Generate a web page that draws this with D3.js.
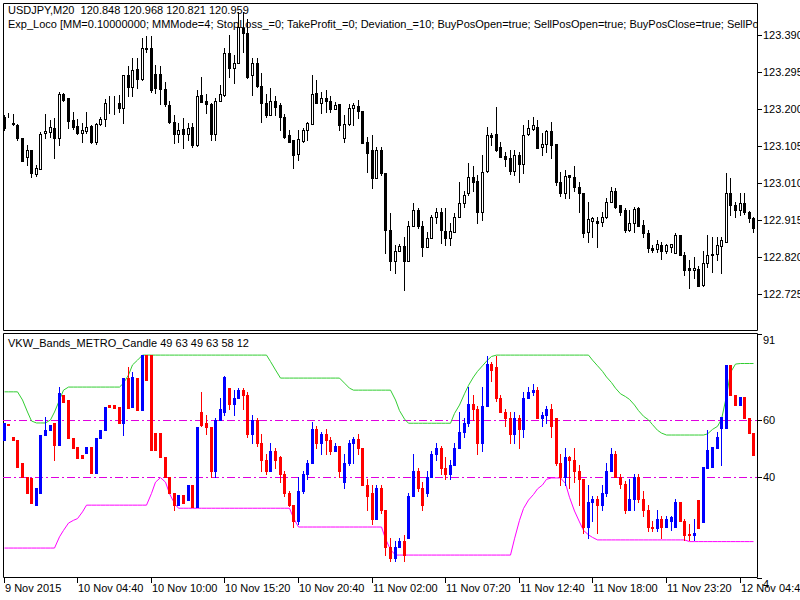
<!DOCTYPE html>
<html>
<head>
<meta charset="utf-8">
<script src="https://cdn.jsdelivr.net/npm/d3@7"></script>
<style>
  body { margin: 0; background: #fff; }
  svg { display: block; font-family: "Liberation Sans", Arial, sans-serif; }
  text { white-space: pre; }
</style>
</head>
<body>
<svg id="chart" width="800" height="600"></svg>
<script>
// USDJPY M20 bars
var openP  = [123.180,123.185,123.163,123.159,123.126,123.077,123.095,123.032,123.046,123.138,123.140,123.152,123.125,123.238,123.229,123.172,123.156,123.138,123.142,123.156,123.114,123.161,123.174,123.215,123.216,123.216,123.203,123.287,123.256,123.302,123.276,123.356,123.356,123.289,123.289,123.251,123.210,123.166,123.135,123.148,123.135,123.154,123.106,123.236,123.219,123.212,123.135,123.220,123.236,123.343,123.304,123.317,123.407,123.394,123.287,123.319,123.259,123.215,123.185,123.220,123.210,123.178,123.133,123.120,123.084,123.118,123.146,123.161,123.242,123.215,123.227,123.220,123.199,123.212,123.126,123.161,123.202,123.208,123.195,123.116,123.095,123.022,123.095,123.035,122.889,122.808,122.834,122.849,122.808,122.898,122.941,122.898,122.844,122.868,122.923,122.936,122.887,122.868,122.883,122.923,122.958,122.983,123.026,123.015,122.936,123.041,123.133,123.135,123.101,123.079,123.073,123.041,123.082,123.058,123.135,123.149,123.154,123.101,123.110,123.142,123.110,123.013,122.985,123.030,123.024,123.000,122.983,122.885,122.911,122.911,122.909,122.923,122.962,122.990,122.952,122.941,122.889,122.906,122.945,122.902,122.881,122.842,122.840,122.851,122.836,122.846,122.829,122.875,122.825,122.791,122.787,122.789,122.748,122.804,122.824,122.826,122.849,122.859,122.983,122.953,122.941,122.958,122.935,122.919];
var highP  = [123.185,123.190,123.187,123.161,123.126,123.107,123.095,123.056,123.140,123.187,123.172,123.176,123.244,123.240,123.229,123.193,123.174,123.163,123.191,123.159,123.163,123.180,123.225,123.232,123.232,123.236,123.287,123.309,123.330,123.330,123.382,123.386,123.386,123.313,123.309,123.270,123.219,123.185,123.163,123.176,123.163,123.163,123.249,123.283,123.238,123.215,123.227,123.262,123.356,123.390,123.339,123.450,123.450,123.430,123.330,123.332,123.292,123.238,123.253,123.234,123.215,123.186,123.146,123.120,123.146,123.150,123.167,123.287,123.274,123.244,123.249,123.232,123.217,123.212,123.185,123.212,123.215,123.223,123.195,123.129,123.133,123.103,123.103,123.035,122.932,122.851,122.853,122.872,122.911,122.958,122.945,122.911,122.885,122.928,122.945,122.945,122.945,122.906,122.932,123.013,122.988,123.061,123.052,123.030,123.082,123.154,123.138,123.206,123.116,123.090,123.095,123.095,123.090,123.159,123.172,123.180,123.172,123.138,123.146,123.167,123.110,123.039,123.043,123.031,123.052,123.013,122.983,122.962,122.921,122.921,122.936,122.972,123.000,122.996,122.953,122.945,122.941,122.948,122.948,122.915,122.889,122.851,122.864,122.858,122.853,122.853,122.881,122.876,122.832,122.813,122.819,122.796,122.834,122.876,122.872,122.872,122.872,123.035,123.022,122.962,122.983,122.983,122.937,122.921];
var lowP   = [123.146,123.180,123.159,123.120,123.065,123.056,123.025,123.028,123.046,123.125,123.129,123.073,123.107,123.220,123.150,123.148,123.136,123.114,123.138,123.112,123.110,123.159,123.156,123.189,123.187,123.193,123.163,123.232,123.232,123.253,123.274,123.347,123.244,123.240,123.212,123.208,123.163,123.112,123.116,123.099,123.120,123.101,123.104,123.217,123.189,123.120,123.120,123.220,123.232,123.283,123.266,123.317,123.347,123.279,123.236,123.257,123.167,123.180,123.185,123.185,123.146,123.125,123.116,123.048,123.069,123.116,123.120,123.161,123.232,123.189,123.193,123.193,123.199,123.146,123.116,123.159,123.159,123.176,123.113,123.039,122.996,123.022,123.030,122.829,122.787,122.778,122.835,122.735,122.808,122.898,122.894,122.821,122.844,122.868,122.906,122.855,122.851,122.851,122.883,122.921,122.949,122.979,122.988,122.906,122.915,123.039,123.107,123.092,123.077,123.052,123.032,123.030,123.013,123.035,123.133,123.146,123.099,123.082,123.090,123.073,123.005,122.975,122.971,122.970,122.988,122.936,122.872,122.859,122.872,122.846,122.899,122.919,122.962,122.945,122.928,122.885,122.887,122.885,122.899,122.871,122.832,122.832,122.833,122.815,122.830,122.833,122.829,122.825,122.774,122.740,122.765,122.744,122.746,122.795,122.782,122.813,122.778,122.859,122.928,122.921,122.928,122.930,122.909,122.885];
var closeP = [123.150,123.185,123.162,123.125,123.067,123.095,123.035,123.048,123.136,123.142,123.153,123.125,123.238,123.223,123.169,123.154,123.138,123.146,123.153,123.114,123.161,123.174,123.215,123.216,123.215,123.203,123.287,123.257,123.300,123.276,123.356,123.355,123.249,123.253,123.251,123.212,123.166,123.135,123.146,123.135,123.150,123.106,123.233,123.217,123.212,123.135,123.220,123.238,123.343,123.304,123.319,123.411,123.394,123.283,123.319,123.259,123.215,123.185,123.220,123.206,123.178,123.129,123.116,123.082,123.123,123.146,123.163,123.238,123.215,123.227,123.220,123.199,123.210,123.159,123.161,123.203,123.210,123.195,123.113,123.086,123.022,123.095,123.035,122.889,122.808,122.834,122.849,122.808,122.898,122.941,122.898,122.846,122.868,122.923,122.936,122.889,122.868,122.887,122.923,122.958,122.979,123.026,123.013,122.936,123.039,123.133,123.129,123.095,123.077,123.072,123.041,123.082,123.058,123.133,123.150,123.159,123.099,123.110,123.144,123.106,123.013,122.983,123.028,123.024,123.000,122.983,122.881,122.917,122.919,122.906,122.923,122.962,122.990,122.947,122.936,122.889,122.906,122.943,122.900,122.881,122.842,122.838,122.852,122.836,122.851,122.852,122.876,122.825,122.787,122.787,122.791,122.746,122.804,122.824,122.827,122.851,122.864,122.983,122.953,122.941,122.958,122.935,122.919,122.894];

// VKW_Bands_METRO_Candle indicator bars
var oscOpen  = [53.0,58.6,54.1,53.0,44.8,39.8,39.4,29.9,34.1,54.8,56.6,59.1,51.2,69.0,67.2,53.7,50.5,47.7,48.4,50.5,41.2,53.7,56.6,65.5,65.5,64.8,59.1,75.2,64.8,75.1,63.7,83.3,83.3,55.5,55.5,47.0,39.8,34.1,29.9,33.4,31.6,37.0,29.2,
  63.0,59.0,57.5,42.0,60.0,63.0,71.5,66.0,68.0,71.0,69.0,55.0,60.0,52.0,46.0,42.0,49.0,47.0,41.0,34.0,30.0,24.0,35.0,41.0,45.0,57.0,52.0,55.0,53.0,49.0,51.0,38.0,45.0,52.0,53.5,50.0,37.0,34.0,25.0,36.0,28.0,15.0,11.0,15.0,17.0,
  18.0,33.0,42.0,36.0,34.0,40.0,48.0,50.0,43.0,41.0,44.0,50.0,56.0,59.0,66.0,64.0,52.0,65.0,80.0,79.0,68.0,63.0,61.0,55.0,61.0,57.0,68.0,70.0,71.0,61.0,62.0,64.0,61.0,45.0,40.0,47.0,46.0,42.0,39.0,22.0,31.0,32.0,30.0,34.0,42.0,48.0,40.0,37.5,28.0,32.0,40.0,32.0,28.0,22.0,21.5,25.0,22.0,24.0,22.0,31.0,24.0,19.5,19.0,
  31.6,23.8,43.0,43.4,50.2,57.2,57.2,79.8,69.1,65.5,68.4,60.9,55.6];
var oscClose = [59.1,58.2,53.0,43.4,39.8,34.1,30.6,35.9,54.8,56.6,58.4,51.2,69.7,66.6,53.7,50.1,46.6,46.6,50.5,41.2,53.7,56.6,64.8,64.8,64.4,59.1,75.1,64.4,75.5,63.7,83.3,74.4,49.4,49.4,47.0,39.8,34.1,29.9,33.4,30.6,37.0,29.2,57.7,
  58.5,57.5,42.0,60.0,64.0,75.5,66.0,68.0,71.0,69.0,55.0,60.0,52.0,46.0,42.0,49.0,46.0,41.0,34.0,30.0,24.0,35.0,41.0,45.0,57.0,52.0,55.0,53.0,49.0,51.0,42.0,45.0,52.0,53.5,50.0,37.0,33.0,25.0,36.0,28.0,15.0,11.0,15.0,17.0,12.0,
  33.0,42.0,36.0,30.0,40.0,48.0,50.0,43.0,41.0,44.0,50.0,56.0,59.0,66.0,64.0,52.0,65.0,80.0,78.0,68.0,63.0,61.0,55.0,61.0,57.0,68.0,70.0,71.0,61.0,62.0,64.0,58.0,45.0,40.0,47.0,46.0,42.0,39.0,22.0,31.0,32.0,30.0,34.0,42.0,48.0,40.0,37.5,28.0,32.0,40.0,32.0,28.0,22.0,21.5,25.0,22.0,25.0,25.5,31.0,24.0,19.0,19.0,20.0,
  21.6,43.4,49.5,50.5,54.1,61.3,79.8,69.1,65.5,68.4,60.9,55.6,47.7];
var oscHigh  = [59.1,58.6,54.1,53.0,44.8,39.8,39.4,35.9,54.8,61.2,58.4,59.1,71.9,69.0,67.2,53.7,50.5,47.7,50.5,50.5,53.7,56.6,64.8,65.5,65.5,64.8,75.1,79.0,77.2,75.1,83.3,83.3,83.3,55.5,55.5,47.0,39.8,34.1,33.4,33.4,37.0,37.0,57.7,
  70.0,62.0,57.5,61.0,68.0,76.0,71.5,71.0,71.5,71.5,70.0,62.0,61.0,55.0,48.0,52.0,50.0,47.5,42.0,35.0,30.0,40.0,42.0,46.0,59.5,58.0,56.0,57.0,54.0,52.0,51.0,48.0,53.0,54.0,55.0,50.0,39.0,37.0,37.0,37.0,28.0,18.0,17.0,18.0,19.0,
  34.0,48.0,43.0,38.0,42.0,49.0,52.0,51.0,47.0,46.0,52.0,63.0,61.0,72.0,69.0,65.0,72.0,83.0,81.0,83.0,69.0,64.0,63.0,63.0,62.0,70.0,72.0,73.0,72.0,63.0,65.0,66.0,61.0,48.0,50.0,47.5,50.0,44.0,39.0,37.0,33.0,33.0,37.0,45.0,50.0,49.0,41.0,38.5,39.0,41.0,41.0,35.0,30.0,24.0,28.0,26.0,26.0,26.0,32.0,31.0,25.0,23.0,25.0,
  31.6,43.4,56.6,50.5,55.9,61.3,79.8,79.8,69.1,68.4,68.4,60.9,55.6];
var oscLow   = [53.0,58.2,53.0,43.4,39.8,34.1,30.6,29.9,34.1,54.8,56.6,45.9,51.2,66.6,53.7,50.1,46.6,46.6,48.4,41.2,41.2,53.7,56.6,64.8,64.4,59.1,54.8,64.4,64.8,63.7,63.7,74.4,49.4,49.4,47.0,39.8,34.1,28.1,29.9,30.6,31.6,29.2,29.2,
  58.0,55.0,40.0,40.0,60.0,62.0,64.0,62.0,68.0,64.0,54.0,52.0,51.0,42.0,41.0,42.0,43.0,38.0,33.0,29.5,22.0,23.0,34.0,39.0,45.0,50.0,48.0,48.0,48.0,49.0,40.0,36.0,44.0,45.0,48.0,37.0,28.0,23.0,25.0,27.0,12.0,10.0,10.0,15.0,10.0,
  18.0,33.0,35.0,28.0,33.0,40.0,46.0,41.0,39.0,39.0,44.0,50.0,54.0,58.0,60.0,48.0,49.0,65.0,74.0,67.0,63.0,58.0,52.0,52.0,50.0,54.0,68.0,69.0,61.0,58.0,59.0,54.0,44.0,37.0,37.0,36.0,38.0,30.0,20.0,18.0,24.0,20.0,28.0,33.0,42.0,40.0,36.0,27.0,28.0,28.0,31.0,26.0,20.5,20.5,20.5,18.0,22.0,21.0,22.0,24.0,17.5,17.5,17.5,
  21.6,23.8,43.0,43.4,50.2,44.1,57.2,69.1,65.5,65.5,60.9,55.6,47.7];

var upperBand = [70.2,70.2,70.2,70.2,67.3,63.0,59.8,59.1,59.1,59.1,60.2,63.0,67.3,70.8,
  71.9,71.9,71.9,71.9,71.9,71.9,71.9,71.9,71.9,71.9,71.9,71.9,73.3,76.2,79.8,81.5,
  83.3,83.3,83.3,83.3,83.3,83.3,83.3,83.3,83.3,83.3,83.3,83.3,83.3,83.3,83.3,83.3,83.3,83.3,83.3,83.3,83.3,83.3,83.3,83.3,83.3,83.3,83.3,83.3,
  81.0,78.0,75.1,75.1,75.1,75.1,75.1,75.1,75.1,75.1,75.1,75.1,75.1,75.1,75.1,75.1,73.3,71.5,
  70.8,70.8,70.8,70.8,70.8,70.8,70.8,70.8,70.8,67.3,63.5,60.5,
  59.0,59.0,59.0,59.0,59.0,59.0,59.0,59.0,59.0,59.0,62.5,65.5,69.5,72.5,75.5,77.5,79.5,81.5,82.8,
  83.3,83.3,83.3,83.3,83.3,83.3,83.3,83.3,83.3,83.3,83.3,83.3,83.3,83.3,83.3,83.3,83.3,83.3,83.3,83.3,83.3,
  81.5,79.5,77.5,75.5,73.5,71.5,69.5,68.5,67.5,65.5,63.5,61.5,60.2,58.5,56.5,55.5,
  54.8,54.8,54.8,54.8,54.8,54.8,54.8,54.8,54.8,55.2,56.8,57.9,60.4,68.7,77.1,80.1,80.3,80.3,80.3,80.3];
var lowerBand = [14.5,14.5,14.5,14.5,14.5,14.5,14.5,14.5,14.5,14.5,14.5,14.5,18.5,20.8,23.4,24.4,25.0,27.4,
  29.8,29.8,29.8,29.8,29.8,29.8,29.8,29.8,29.8,29.8,29.8,29.8,29.8,29.8,34.0,38.0,39.6,38.0,33.9,30.4,
  28.7,28.7,28.7,28.7,28.7,28.7,28.7,28.7,28.7,28.7,28.7,28.7,28.7,28.7,28.7,28.7,28.7,28.7,28.7,28.7,28.7,28.7,28.7,28.7,28.7,25.2,
  22.0,22.0,22.0,22.0,22.0,22.0,22.0,22.0,22.0,22.0,22.0,22.0,22.0,22.0,22.0,22.0,22.0,22.0,22.0,17.8,13.9,
  12.0,12.0,12.0,12.0,12.0,12.0,12.0,12.0,12.0,12.0,12.0,12.0,12.0,12.0,12.0,12.0,12.0,12.0,12.0,12.0,12.0,12.0,12.0,12.0,12.0,12.0,
  17.8,24.4,28.6,31.6,33.6,35.6,37.0,39.0,39.5,39.5,39.5,37.5,32.6,27.7,23.8,20.8,19.2,18.3,
  17.4,17.4,17.4,17.4,17.4,17.4,17.4,17.4,17.4,17.4,17.4,17.4,17.4,17.4,17.4,17.4,17.4,17.4,17.4,17.4,
  16.8,16.8,16.8,16.8,16.8,16.8,16.8,16.8,16.8,16.8,16.8,16.8,16.8,16.8,16.8];

var priceTicks = [123.390,123.295,123.200,123.105,123.010,122.915,122.820,122.725];
var oscTicks = [91,60,40,4];
var oscLevels = [60,40];
var timeTickBars = [0,16,32,48,64,80,96,112,128,144,160];
var timeLabels = ["9 Nov 2015","10 Nov 04:40","10 Nov 10:00","10 Nov 15:20","10 Nov 20:40","11 Nov 02:00","11 Nov 07:20","11 Nov 12:40","11 Nov 18:00","11 Nov 23:20","12 Nov 04:40"];

var headerLine1 = "USDJPY,M20  120.848 120.968 120.821 120.959";
var headerLine2 = "Exp_Loco [MM=0.10000000; MMMode=4; StopLoss_=0; TakeProfit_=0; Deviation_=10; BuyPosOpen=true; SellPosOpen=true; BuyPosClose=true; SellPosClose=true]";
var oscTitle = "VKW_Bands_METRO_Candle 49 63 49 63 58 12";

var svg = d3.select("#chart");
var left = 3, right = 757;
var top1 = 3, bottom1 = 330, top2 = 333, bottom2 = 577;

var x = d3.scaleLinear().domain([0, 163]).range([3.6, 3.6 + 163 * 4.6]);
var yPrice = d3.scaleLinear().domain([122.632, 123.472]).range([bottom1, top1]);
var yOsc = d3.scaleLinear().domain([4, 91]).range([577.5, 333.5]);

var defs = svg.append("defs");
defs.append("clipPath").attr("id", "clip1")
  .append("rect").attr("x", left).attr("y", top1).attr("width", right - left).attr("height", bottom1 - top1);
defs.append("clipPath").attr("id", "clip2")
  .append("rect").attr("x", left).attr("y", top2).attr("width", right - left).attr("height", bottom2 - top2);

// panel frames
function frame(t, b) {
  svg.append("path")
    .attr("d", `M${left + 0.5},${b + 0.5}V${t + 0.5}H${right + 0.5}V${b + 0.5}H${left + 0.5}`)
    .attr("fill", "none").attr("stroke", "#000").attr("stroke-width", 1);
}
frame(top1, bottom1);
frame(top2, bottom2);

function px(i) { return Math.round(x(i)); }
function py(s, v) { return Math.round(s(v)); }

// ---------- price panel ----------
var g1 = svg.append("g").attr("clip-path", "url(#clip1)");
g1.append("text").attr("x", 8).attr("y", 14).attr("font-size", 11).text(headerLine1);
g1.append("text").attr("x", 8).attr("y", 28).attr("font-size", 11).text(headerLine2);

var bars = d3.range(openP.length);
g1.selectAll("line.wick").data(bars).enter().append("line")
  .attr("class", "wick")
  .attr("x1", i => px(i) + 0.5).attr("x2", i => px(i) + 0.5)
  .attr("y1", i => py(yPrice, highP[i])).attr("y2", i => py(yPrice, lowP[i]) + 1)
  .attr("stroke", "#000");
g1.selectAll("rect.body").data(bars).enter().append("rect")
  .attr("class", "body")
  .attr("x", i => px(i) - 0.5)
  .attr("width", 2)
  .attr("y", i => py(yPrice, Math.max(openP[i], closeP[i])) + 0.5)
  .attr("height", i => Math.max(0, py(yPrice, Math.min(openP[i], closeP[i])) - py(yPrice, Math.max(openP[i], closeP[i]))))
  .attr("fill", i => closeP[i] >= openP[i] ? "#fff" : "#000")
  .attr("stroke", "#000");

var yAxis1 = svg.append("g").attr("font-size", 11);
priceTicks.forEach(function(t) {
  var yy = py(yPrice, t);
  yAxis1.append("line").attr("x1", right).attr("x2", right + 5).attr("y1", yy + 0.5).attr("y2", yy + 0.5).attr("stroke", "#000");
  yAxis1.append("text").attr("x", right + 6).attr("y", yy + 4).text(t.toFixed(3));
});

// ---------- indicator panel ----------
var g2 = svg.append("g").attr("clip-path", "url(#clip2)");

oscLevels.forEach(function(l) {
  g2.append("line")
    .attr("x1", left).attr("x2", right)
    .attr("y1", py(yOsc, l) + 0.5).attr("y2", py(yOsc, l) + 0.5)
    .attr("stroke", "#e000e0").attr("stroke-dasharray", "8,3,2,3");
});

var bandLine = d3.line().x((d, i) => px(i) + 0.5).y(d => yOsc(d));
g2.append("path").datum(upperBand).attr("d", bandLine)
  .attr("fill", "none").attr("stroke", "#32cd32").attr("stroke-width", 1);
g2.append("path").datum(lowerBand).attr("d", bandLine)
  .attr("fill", "none").attr("stroke", "#ff00ff").attr("stroke-width", 1);

var oscBars = d3.range(oscOpen.length);
var oscColor = i => oscClose[i] >= oscOpen[i] ? "#0000ff" : "#ff0000";
g2.selectAll("line.owick").data(oscBars).enter().append("line")
  .attr("x1", i => px(i) + 0.5).attr("x2", i => px(i) + 0.5)
  .attr("y1", i => py(yOsc, oscHigh[i])).attr("y2", i => py(yOsc, oscLow[i]) + 1)
  .attr("stroke", oscColor);
g2.selectAll("rect.obody").data(oscBars).enter().append("rect")
  .attr("x", i => px(i) - 0.5)
  .attr("width", 2)
  .attr("y", i => py(yOsc, Math.max(oscOpen[i], oscClose[i])) + 0.5)
  .attr("height", i => Math.max(0, py(yOsc, Math.min(oscOpen[i], oscClose[i])) - py(yOsc, Math.max(oscOpen[i], oscClose[i]))))
  .attr("fill", oscColor).attr("stroke", oscColor);

g2.append("text").attr("x", 8).attr("y", 347).attr("font-size", 11).text(oscTitle);

var yAxis2 = svg.append("g").attr("font-size", 11);
oscTicks.forEach(function(t, k) {
  var yy = py(yOsc, t);
  var dy = (k == 0 || k == oscTicks.length - 1) ? 10 : 4;
  yAxis2.append("line").attr("x1", right).attr("x2", right + 5).attr("y1", yy + 0.5).attr("y2", yy + 0.5).attr("stroke", "#000");
  yAxis2.append("text").attr("x", right + 6).attr("y", yy + dy).text(t);
});

// time axis
var xAxis = svg.append("g").attr("font-size", 11);
timeTickBars.forEach(function(b, k) {
  var xx = px(b);
  xAxis.append("line").attr("x1", xx + 0.5).attr("x2", xx + 0.5).attr("y1", bottom2).attr("y2", bottom2 + 6).attr("stroke", "#000");
  xAxis.append("text").attr("x", xx + 1).attr("y", 592).text(timeLabels[k]);
});
</script>
</body>
</html>
